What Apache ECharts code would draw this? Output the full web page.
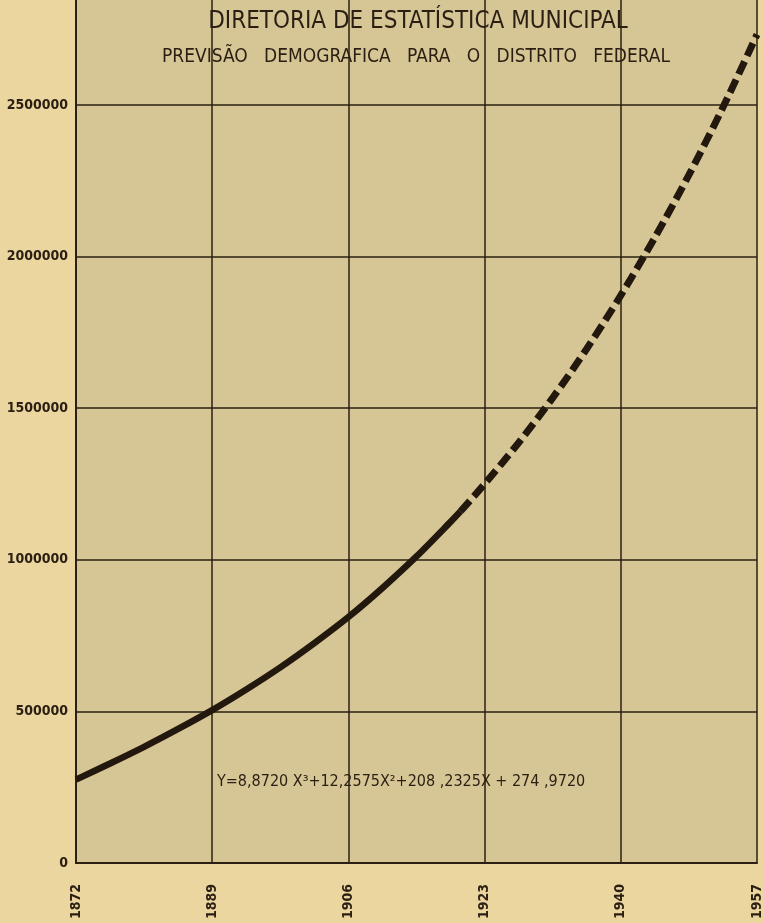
<!DOCTYPE html>
<html>
<head>
<meta charset="utf-8">
<script src="https://cdn.jsdelivr.net/npm/echarts@6/dist/echarts.min.js"></script>
<style>
html,body{margin:0;padding:0;background:#ead29b;}
#c{width:764px;height:923px;}
</style>
</head>
<body>
<div id="c"></div>
<script>
// Observed (census) stretch — solid line
const solidYears  = [1872, 1876.25, 1880.5, 1884.75, 1889, 1893.25, 1897.5, 1901.75, 1906, 1910.25, 1914.5, 1918.75, 1920];
const solidValues = [275000, 328000, 383000, 442000, 504000, 572000, 645000, 725000, 811000, 907000, 1011000, 1125000, 1160000];
// Forecast stretch — dashed line
const dashYears  = [1920, 1923, 1927.25, 1931.5, 1935.75, 1940, 1944.25, 1948.5, 1952.75, 1957];
const dashValues = [1160000, 1250000, 1386000, 1534000, 1696000, 1872000, 2063000, 2269000, 2492000, 2732000];
// Axis ticks
const xTickYears = [1872, 1889, 1906, 1923, 1940, 1957];
const yTicks = [0, 500000, 1000000, 1500000, 2000000, 2500000];

const BASE = xTickYears[0];
const FONT = '"DejaVu Sans Condensed","Liberation Sans Narrow","DejaVu Sans",sans-serif';
const INK = '#2a1f12';

const chart = echarts.init(document.getElementById('c'), null, {renderer: 'canvas'});
chart.setOption({
  backgroundColor: '#ecd6a0',
  animation: false,
  grid: {left: 76, right: 6, top: 0, bottom: 60, show: true, backgroundColor: '#d6c595', borderWidth: 0},
  xAxis: {
    type: 'value', min: 0, max: xTickYears[xTickYears.length-1] - BASE, interval: 17,
    axisLine: {show: true, lineStyle: {color: INK, width: 2}},
    axisTick: {show: false},
    axisLabel: {rotate: 90, margin: 21, color: INK, fontFamily: FONT, fontWeight: 'bold', fontSize: 14,
      formatter: v => String(v + BASE)},
    splitLine: {show: true, lineStyle: {color: INK, width: 1.5}}
  },
  yAxis: {
    type: 'value', min: 0, max: 2846000, interval: 500000,
    axisLine: {show: true, lineStyle: {color: INK, width: 2}},
    axisTick: {show: false},
    axisLabel: {margin: 8, color: INK, fontFamily: FONT, fontWeight: 'bold', fontSize: 14, showMaxLabel: false,
      formatter: v => yTicks.includes(v) ? String(v) : ''},
    splitLine: {show: true, showMaxLine: false, lineStyle: {color: INK, width: 1.5}}
  },
  series: [
    {type: 'line', data: solidYears.map((y,i)=>[y-BASE, solidValues[i]]), smooth: 0.3, symbol: 'none',
      lineStyle: {color: '#22180e', width: 6.5}, z: 5},
    {type: 'line', data: dashYears.map((y,i)=>[y-BASE, dashValues[i]]), smooth: 0.3, symbol: 'none',
      lineStyle: {color: '#22180e', width: 7, type: [14, 6], cap: 'butt'}, z: 5}
  ],
  graphic: [
    {type: 'text', x: 418, y: 22, style: {text: 'DIRETORIA DE ESTATÍSTICA MUNICIPAL', fill: INK,
      font: '24px ' + FONT, align: 'center', verticalAlign: 'middle'}, z: 10},
    {type: 'text', x: 416, y: 57, style: {text: 'PREVISÃO   DEMOGRAFICA   PARA   O   DISTRITO   FEDERAL', fill: INK,
      font: '19px ' + FONT, align: 'center', verticalAlign: 'middle'}, z: 10},
    {type: 'text', x: 217, y: 782, style: {text: 'Y=8,8720 X³+12,2575X²+208 ,2325X + 274 ,9720', fill: INK,
      font: '16px ' + FONT, align: 'left', verticalAlign: 'middle'}, z: 10}
  ]
});
</script>
</body>
</html>
